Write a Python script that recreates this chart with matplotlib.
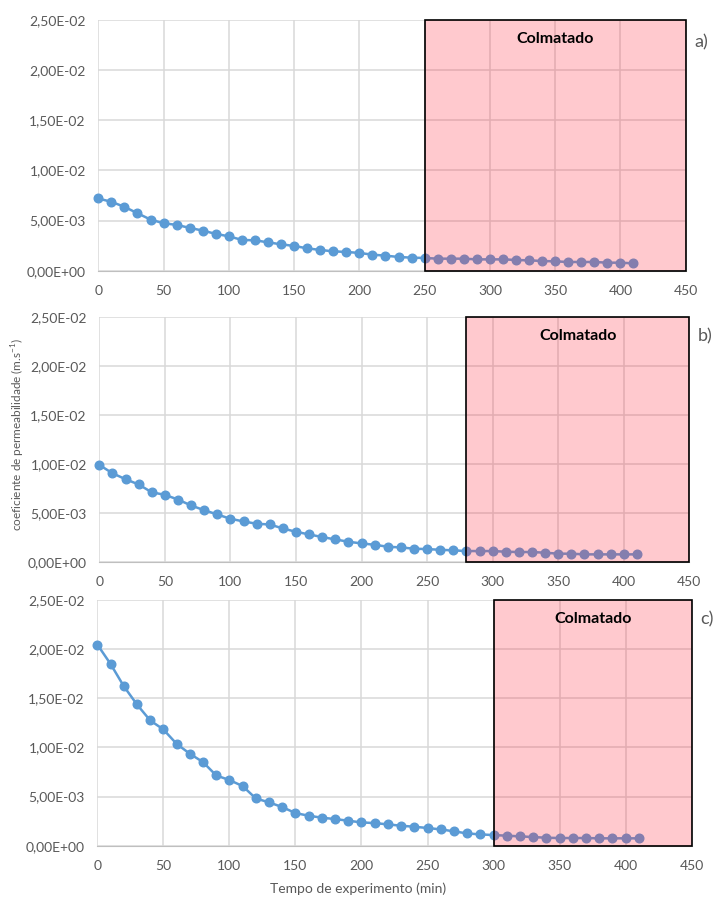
import matplotlib
matplotlib.use("Agg")
import matplotlib.pyplot as plt
from matplotlib.patches import Rectangle
from matplotlib.ticker import FuncFormatter, MultipleLocator

plt.rcParams['font.family'] = ['Lato', 'DejaVu Sans']
plt.rcParams['mathtext.fontset'] = 'custom'
plt.rcParams['mathtext.rm'] = 'Lato'

time_min = list(range(0, 411, 10))

k_a = [7.20e-3, 6.87e-3, 6.37e-3, 5.73e-3, 5.10e-3, 4.73e-3, 4.57e-3, 4.27e-3, 4.00e-3, 3.67e-3,
       3.43e-3, 3.07e-3, 3.03e-3, 2.83e-3, 2.63e-3, 2.47e-3, 2.23e-3, 2.07e-3, 1.93e-3, 1.87e-3,
       1.77e-3, 1.60e-3, 1.50e-3, 1.37e-3, 1.30e-3, 1.27e-3, 1.20e-3, 1.20e-3, 1.20e-3, 1.13e-3,
       1.13e-3, 1.13e-3, 1.07e-3, 1.03e-3, 0.97e-3, 0.93e-3, 0.87e-3, 0.87e-3, 0.87e-3, 0.80e-3,
       0.80e-3, 0.73e-3]

k_b = [9.90e-3, 9.05e-3, 8.44e-3, 7.90e-3, 7.10e-3, 6.84e-3, 6.36e-3, 5.75e-3, 5.27e-3, 4.83e-3,
       4.39e-3, 4.12e-3, 3.88e-3, 3.81e-3, 3.40e-3, 3.06e-3, 2.79e-3, 2.52e-3, 2.28e-3, 2.04e-3,
       1.87e-3, 1.73e-3, 1.53e-3, 1.46e-3, 1.33e-3, 1.29e-3, 1.22e-3, 1.16e-3, 1.09e-3, 1.09e-3,
       1.09e-3, 1.02e-3, 0.99e-3, 0.99e-3, 0.92e-3, 0.82e-3, 0.82e-3, 0.75e-3, 0.75e-3, 0.75e-3,
       0.75e-3, 0.75e-3]

k_c = [2.047e-2, 1.850e-2, 1.624e-2, 1.437e-2, 1.275e-2, 1.183e-2, 1.037e-2, 9.36e-3, 8.51e-3, 7.15e-3,
       6.68e-3, 6.07e-3, 4.81e-3, 4.41e-3, 3.93e-3, 3.32e-3, 3.05e-3, 2.85e-3, 2.71e-3, 2.54e-3,
       2.37e-3, 2.30e-3, 2.17e-3, 2.03e-3, 1.93e-3, 1.80e-3, 1.66e-3, 1.46e-3, 1.25e-3, 1.15e-3,
       1.08e-3, 1.02e-3, 0.95e-3, 0.88e-3, 0.81e-3, 0.78e-3, 0.78e-3, 0.78e-3, 0.75e-3, 0.75e-3,
       0.75e-3, 0.75e-3]

series = [k_a, k_b, k_c]
clog_start = [250, 280, 300]
panel_labels = ["a)", "b)", "c)"]
clog_text = "Colmatado"

W, H = 718, 898
fig = plt.figure(figsize=(W / 100, H / 100), dpi=100)

# axes boxes in pixels: left, top, right, bottom
boxes = [(98.3, 20.0, 685.7, 270.7),
         (99.3, 317.3, 689.3, 561.7),
         (97.3, 600.0, 691.7, 845.7)]

def sci_comma(v, pos):
    if v == 0:
        return "0,00E+00"
    s = "%.2E" % v
    mant, exp = s.split("E")
    sign = exp[0]
    e = int(exp[1:])
    return "%s%s%s%02d" % (mant.replace(".", ","), "E", sign, e)

blue = "#5B9BD5"
grid_c = "#D9D9D9"
tick_c = "#595959"

for i, (ys, xs0, lab, box) in enumerate(zip(series, clog_start, panel_labels, boxes)):
    l, t, r, b = box
    ax = fig.add_axes([l / W, 1 - b / H, (r - l) / W, (b - t) / H])
    ax.set_xlim(0, 450)
    ax.set_ylim(0, 0.025)
    ax.xaxis.set_major_locator(MultipleLocator(50))
    ax.yaxis.set_major_locator(MultipleLocator(0.005))
    ax.yaxis.set_major_formatter(FuncFormatter(sci_comma))
    ax.grid(True, color=grid_c, linewidth=1.1, zorder=0)
    ax.set_axisbelow(True)
    for s in ax.spines.values():
        s.set_visible(False)
    ax.spines['bottom'].set_visible(True)
    ax.spines['bottom'].set_color("#BFBFBF")
    ax.tick_params(length=0, labelsize=10, labelcolor=tick_c)
    ax.tick_params(axis='y', pad=9)
    ax.tick_params(axis='x', pad=10.5)
    ax.plot(time_min, ys, color=blue, linewidth=1.8, marker='o', markersize=6.2,
            markerfacecolor=blue, markeredgecolor=blue, zorder=3, clip_on=False)
    rect = Rectangle((xs0, 0), 450 - xs0, 0.025, facecolor=(1.0, 0.16, 0.24, 0.25),
                     edgecolor='black', linewidth=1.2, zorder=4, clip_on=False)
    ax.add_patch(rect)
    ax.text((xs0 + 450) / 2, 0.0231, clog_text, ha='center', va='center', fontsize=11.5,
            fontweight='bold', color='black', zorder=5)
    ax.text(1.015, 0.91 if i == 0 else 0.92, lab, transform=ax.transAxes, ha='left', va='center',
            fontsize=13, color=tick_c)

fig.text(18 / W, 1 - 434 / H, r"coeficiente de permeabilidade (m.s$^{\mathregular{-1}}$)", rotation=90,
         ha='center', va='center', fontsize=8.5, color=tick_c)
fig.text(358 / W, 1 - 889 / H, "Tempo de experimento (min)", ha='center', va='center',
         fontsize=10, color=tick_c)

fig.savefig("out.png", dpi=100)
